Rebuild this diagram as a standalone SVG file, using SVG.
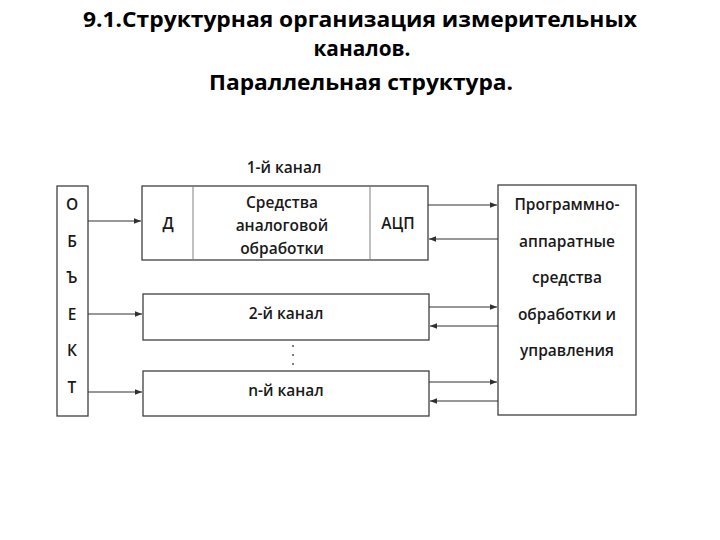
<svg xmlns="http://www.w3.org/2000/svg" width="720" height="540" viewBox="0 0 720 540">
<style>
.box{fill:#fff;stroke:#404040;stroke-width:1.3}
.div{stroke:#808080;stroke-width:1}
.t{font-family:"Open Sans","Liberation Sans",sans-serif;font-weight:600;font-size:15.5px;fill:#1a1a1a;text-anchor:middle;dominant-baseline:central}
.title{font-family:"Open Sans","Liberation Sans",sans-serif;font-weight:700;font-size:22px;fill:#000;text-anchor:middle}
.c{stroke:#303030;stroke-width:1;fill:none;marker-end:url(#ah)}
</style>
<defs>
<marker id="ah" viewBox="0 0 10 10" refX="10" refY="5" markerWidth="7" markerHeight="7" orient="auto" markerUnits="userSpaceOnUse">
<path d="M0,1 L10,5 L0,9 z" fill="#303030"/>
</marker>
</defs>
<rect width="720" height="540" fill="#fff"/>
<g id="title">
<text class="title" x="360" y="27" textLength="554" lengthAdjust="spacingAndGlyphs">9.1.Структурная организация измерительных</text>
<text class="title" x="362" y="56" textLength="97" lengthAdjust="spacingAndGlyphs">каналов.</text>
<text class="title" x="361" y="90" textLength="304" lengthAdjust="spacingAndGlyphs">Параллельная структура.</text>
</g>
<g id="object">
<rect class="box" x="57" y="186" width="31" height="230"/>
<text class="t" x="72" y="204">О</text>
<text class="t" x="72" y="241">Б</text>
<text class="t" x="72" y="277">Ъ</text>
<text class="t" x="72" y="314">Е</text>
<text class="t" x="72" y="350">К</text>
<text class="t" x="72" y="387">Т</text>
</g>
<g id="channel1">
<text class="t" x="284" y="167">1-й канал</text>
<rect class="box" x="142" y="186" width="286" height="74"/>
<line class="div" x1="193" y1="186" x2="193" y2="260"/>
<line class="div" x1="370" y1="186" x2="370" y2="260"/>
<text class="t" x="168" y="223">Д</text>
<text class="t" x="282" y="202">Средства</text>
<text class="t" x="282" y="225">аналоговой</text>
<text class="t" x="282" y="248">обработки</text>
<text class="t" x="398" y="223">АЦП</text>
</g>
<g id="channel2">
<rect class="box" x="143" y="294" width="286" height="46"/>
<text class="t" x="286" y="313">2-й канал</text>
</g>
<g id="dots">
<circle cx="293" cy="346" r="1" fill="#555"/>
<circle cx="293" cy="355" r="1" fill="#555"/>
<circle cx="293" cy="364" r="1" fill="#555"/>
</g>
<g id="channeln">
<rect class="box" x="143" y="371" width="286" height="45"/>
<text class="t" x="286" y="390">n-й канал</text>
</g>
<g id="processor">
<rect class="box" x="498" y="185" width="138" height="230"/>
<text class="t" x="567" y="204">Программно-</text>
<text class="t" x="567" y="241">аппаратные</text>
<text class="t" x="567" y="277">средства</text>
<text class="t" x="567" y="314">обработки и</text>
<text class="t" x="567" y="350">управления</text>
</g>
<g id="connectors">
<line class="c" x1="88" y1="221" x2="141" y2="221"/>
<line class="c" x1="88" y1="314" x2="142" y2="314"/>
<line class="c" x1="88" y1="392" x2="142" y2="392"/>
<line class="c" x1="428" y1="205" x2="497" y2="205"/>
<line class="c" x1="498" y1="239" x2="429" y2="239"/>
<line class="c" x1="429" y1="307" x2="497" y2="307"/>
<line class="c" x1="498" y1="326" x2="430" y2="326"/>
<line class="c" x1="429" y1="382" x2="497" y2="382"/>
<line class="c" x1="498" y1="401" x2="430" y2="401"/>
</g>
</svg>
